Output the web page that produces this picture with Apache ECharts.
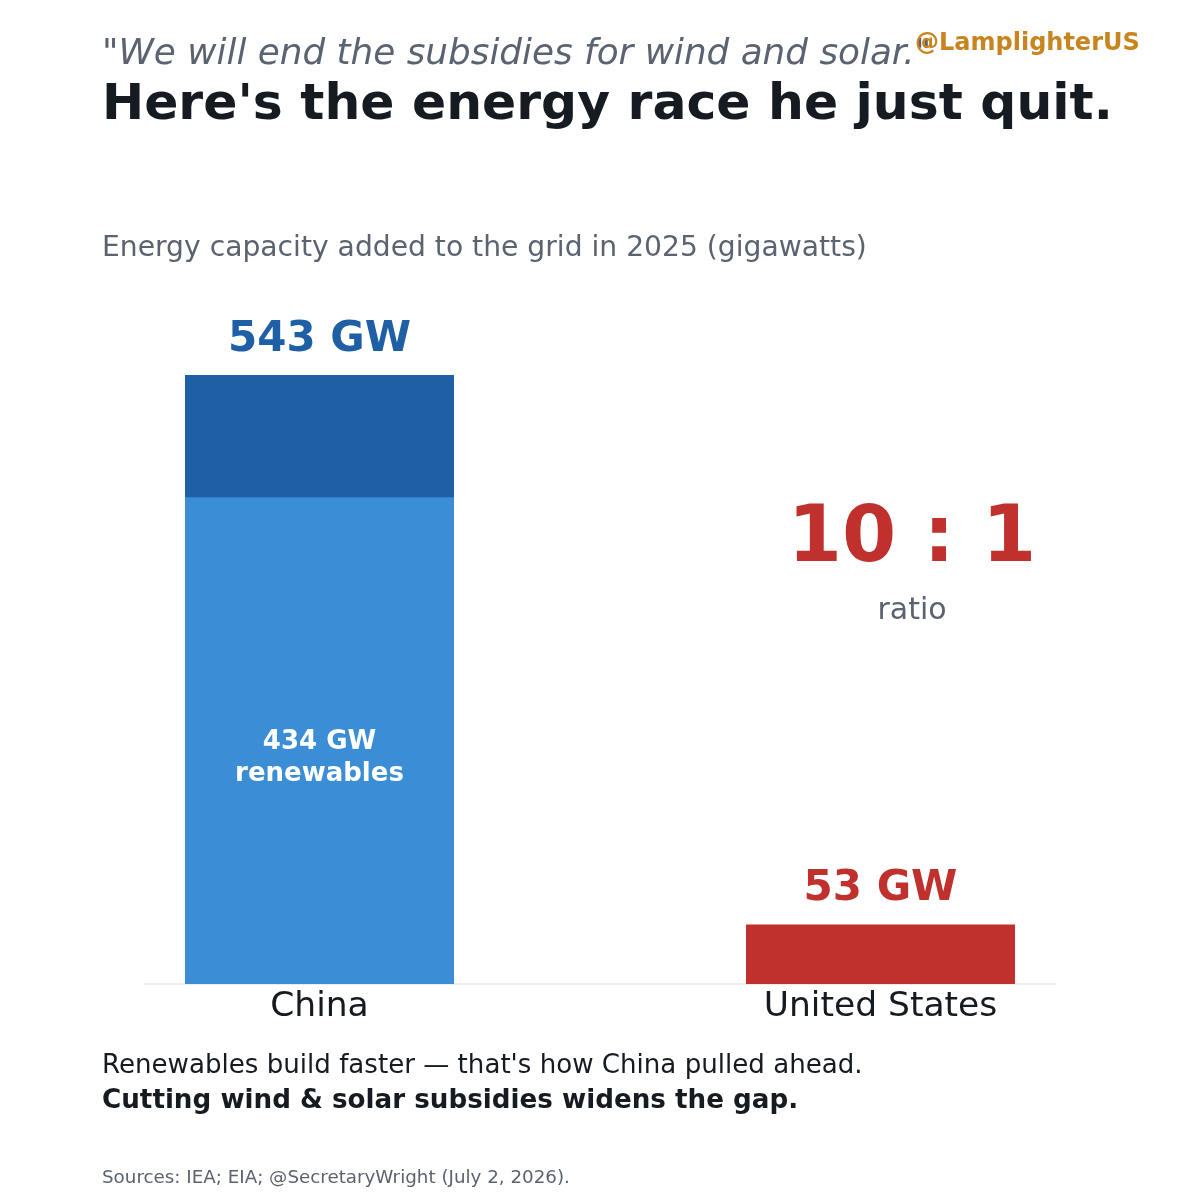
<!DOCTYPE html>
<html>
<head>
<meta charset="utf-8">
<script src="https://cdn.jsdelivr.net/npm/echarts@6/dist/echarts.min.js"></script>
<style>
  html, body { margin: 0; padding: 0; background: #fff; }
  #chart { width: 1200px; height: 1200px; }
</style>
</head>
<body>
<div id="chart"></div>
<script>
// data
const categories = ['China', 'United States'];
const totalGW = [543, 53];
const renewableGW = [434, null]; // only China's split is shown

const FONT = 'DejaVu Sans';
const GRAY = '#5b6370';
const INK = '#161a21';
const LIGHT_BLUE = '#3b8ed6';
const DARK_BLUE = '#1f5fa5';
const RED = '#c0302c';
const barColors = [DARK_BLUE, RED];

const chart = echarts.init(document.getElementById('chart'));

// total bar underneath, renewables bar drawn over it in the same slot
const totalData = totalGW.map((v, i) => ({
    value: [i, v],
    itemStyle: { color: barColors[i] },
    label: { color: barColors[i] }
}));
const renewData = [];
renewableGW.forEach((v, i) => {
    if (v != null) renewData.push([i, v]);
});

const txt = (text, x, y, size, color, extra) => ({
    type: 'text',
    x: x,
    y: y,
    style: Object.assign({
        text: text,
        fontFamily: FONT,
        fontSize: size,
        fill: color,
        verticalAlign: 'middle',
        align: 'left'
    }, extra || {})
});

chart.setOption({
    backgroundColor: '#fff',
    animation: false,
    grid: { left: 144, right: 144, top: 375, bottom: 216 },
    xAxis: {
        type: 'value',
        min: -0.3128,
        max: 1.3128,
        splitLine: { show: false },
        axisTick: { show: false },
        axisLine: { show: true, onZero: false, lineStyle: { color: '#e4e6eb', width: 1.5 } },
        axisLabel: {
            customValues: [0, 1],
            formatter: v => categories[Math.round(v)] || '',
            fontFamily: FONT,
            fontSize: 34.5,
            color: INK,
            margin: 6
        }
    },
    yAxis: {
        type: 'value',
        min: 0,
        max: 543,
        show: false,
        splitLine: { show: false }
    },
    series: [
        {
            name: 'total',
            type: 'bar',
            barWidth: 269,
            barGap: '-100%',
            data: totalData,
            label: {
                show: true,
                position: 'top',
                distance: 14,
                fontFamily: FONT,
                fontWeight: 'bold',
                fontSize: 42,
                formatter: p => p.value[1] + ' GW'
            }
        },
        {
            name: 'renewables',
            type: 'bar',
            barWidth: 269,
            barGap: '-100%',
            data: renewData,
            itemStyle: { color: LIGHT_BLUE },
            label: {
                show: true,
                position: 'inside',
                offset: [0, 18],
                fontFamily: FONT,
                fontWeight: 'bold',
                fontSize: 26,
                lineHeight: 32,
                color: '#fff',
                formatter: p => p.value[1] + ' GW\nrenewables'
            }
        }
    ],
    graphic: [
        txt('"We will end the subsidies for wind and solar."', 102, 55, 35.8, GRAY, { fontStyle: 'italic' }),
        txt('@LamplighterUS', 915, 44, 24, '#c8841e', { fontWeight: 'bold' }),
        txt("Here's the energy race he just quit.", 102, 106, 50.4, INK, { fontWeight: 'bold' }),
        txt('Energy capacity added to the grid in 2025 (gigawatts)', 102, 249, 28.2, GRAY),
        txt('10 : 1', 912, 541, 78, RED, { fontWeight: 'bold', align: 'center' }),
        txt('ratio', 912, 611, 30, GRAY, { align: 'center' }),
        txt('Renewables build faster \u2014 that\'s how China pulled ahead.', 102, 1066, 26.1, INK),
        txt('Cutting wind & solar subsidies widens the gap.', 102, 1101, 26.2, INK, { fontWeight: 'bold' }),
        txt('Sources: IEA; EIA; @SecretaryWright (July 2, 2026).', 102, 1178, 18.3, GRAY)
    ]
});
</script>
</body>
</html>
